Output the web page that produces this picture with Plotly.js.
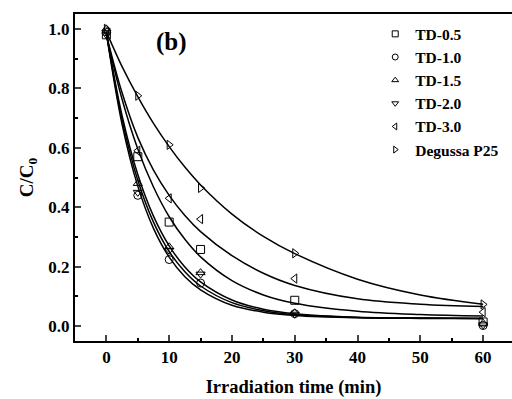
<!DOCTYPE html>
<html>
<head>
<meta charset="utf-8">
<script src="https://cdn.plot.ly/plotly-3.0.1.min.js"></script>
<style>html,body{margin:0;padding:0;background:#fff;}#chart{width:512px;height:399px;}</style>
</head>
<body>
<div id="chart"></div>
<script>
// measured data points
const timePoints = [0, 5, 10, 15, 30, 60];
const td05 = [0.98, 0.57, 0.35, 0.258, 0.087, 0.014];
const td10 = [0.99, 0.44, 0.224, 0.145, 0.042, 0.002];
const td15 = [1.00, 0.48, 0.267, 0.180, 0.045, 0.010];
const td20 = [0.98, 0.45, 0.255, 0.175, 0.040, 0.004];
const td30 = [0.99, 0.59, 0.43, 0.36, 0.16, 0.047];
const p25  = [1.00, 0.775, 0.61, 0.465, 0.245, 0.073];

// fitted curves
const fitTime = [0, 2.5, 5, 7.5, 10, 12.5, 15, 20, 25, 30, 40, 50, 60];
const fitTD05 = [0.98, 0.763, 0.596, 0.468, 0.368, 0.292, 0.233, 0.153, 0.105, 0.077, 0.050, 0.039, 0.034];
const fitTD10 = [0.986, 0.679, 0.471, 0.329, 0.232, 0.166, 0.122, 0.070, 0.047, 0.036, 0.028, 0.026, 0.026];
const fitTD15 = [0.986, 0.708, 0.510, 0.370, 0.270, 0.199, 0.149, 0.088, 0.057, 0.042, 0.030, 0.027, 0.026];
const fitTD20 = [0.986, 0.694, 0.491, 0.350, 0.251, 0.183, 0.135, 0.079, 0.052, 0.038, 0.029, 0.027, 0.026];
const fitTD30 = [0.98, 0.785, 0.635, 0.525, 0.44, 0.372, 0.318, 0.237, 0.178, 0.137, 0.092, 0.074, 0.066];
const fitP25  = [0.99, 0.873, 0.772, 0.682, 0.604, 0.535, 0.475, 0.377, 0.302, 0.244, 0.158, 0.105, 0.074];

const seriesNames = ['TD-0.5', 'TD-1.0', 'TD-1.5', 'TD-2.0', 'TD-3.0', 'Degussa P25'];
const symbols = ['square-open', 'circle-open', 'triangle-up-open', 'triangle-down-open', 'triangle-left-open', 'triangle-right-open'];
const pointSets = [td05, td10, td15, td20, td30, p25];
const fitSets = [fitTD05, fitTD10, fitTD15, fitTD20, fitTD30, fitP25];

const traces = [];
fitSets.forEach(f => {
  traces.push({x: fitTime, y: f, mode: 'lines', line: {color: '#000', width: 1.5, shape: 'spline', smoothing: 1}, showlegend: false, hoverinfo: 'skip'});
});
pointSets.forEach((p, i) => {
  traces.push({x: timePoints, y: p, mode: 'markers', showlegend: false,
    marker: {symbol: symbols[i], size: 8, color: '#000', line: {color: '#000', width: 1}}});
});
// legend-only entries (smaller symbols as in the reference legend)
seriesNames.forEach((n, i) => {
  traces.push({x: [null], y: [null], mode: 'markers', name: n,
    marker: {symbol: symbols[i], size: 6, color: '#000', line: {color: '#000', width: 1}}});
});

const serif = 'Liberation Serif, Times New Roman, serif';
const layout = {
  width: 512, height: 399,
  margin: {l: 75, r: 0, t: 14, b: 58},
  paper_bgcolor: '#fff', plot_bgcolor: '#fff',
  showlegend: true,
  legend: {x: 0.687, y: 0.99, xanchor: 'left', yanchor: 'top', bgcolor: 'rgba(0,0,0,0)',
    font: {family: serif, size: 15.5, color: '#000', weight: 'bold'}, tracegroupgap: 0},
  xaxis: {range: [-5, 64.6], tickvals: [0, 10, 20, 30, 40, 50, 60], ticks: 'inside', ticklen: 6, tickwidth: 2,
    minor: {dtick: 5, tick0: 0, ticks: 'inside', ticklen: 3, tickwidth: 2, tickcolor: '#000'},
    showline: true, linewidth: 2, linecolor: '#000', mirror: true, showgrid: false, zeroline: false,
    tickfont: {family: serif, size: 17, color: '#000', weight: 'bold'},
    title: {text: 'Irradiation time (min)', standoff: 14, font: {family: serif, size: 18.5, color: '#000', weight: 'bold'}}},
  yaxis: {range: [-0.05, 1.05], tickvals: [0, 0.2, 0.4, 0.6, 0.8, 1.0], tickformat: '.1f', ticks: 'inside', ticklen: 6, tickwidth: 2,
    minor: {dtick: 0.1, tick0: 0, ticks: 'inside', ticklen: 3, tickwidth: 2, tickcolor: '#000'},
    showline: true, linewidth: 2, linecolor: '#000', mirror: false, showgrid: false, zeroline: false,
    tickfont: {family: serif, size: 17, color: '#000', weight: 'bold'},
    title: {text: 'C/C<sub>0</sub>', standoff: 10, font: {family: serif, size: 19, color: '#000', weight: 'bold'}}},
  annotations: [{text: '(b)', x: 10.4, y: 0.957, xref: 'x', yref: 'y', showarrow: false,
    font: {family: serif, size: 25, color: '#000', weight: 'bold'}}]
};
Plotly.newPlot('chart', traces, layout, {staticPlot: true, displayModeBar: false});
</script>
</body>
</html>
